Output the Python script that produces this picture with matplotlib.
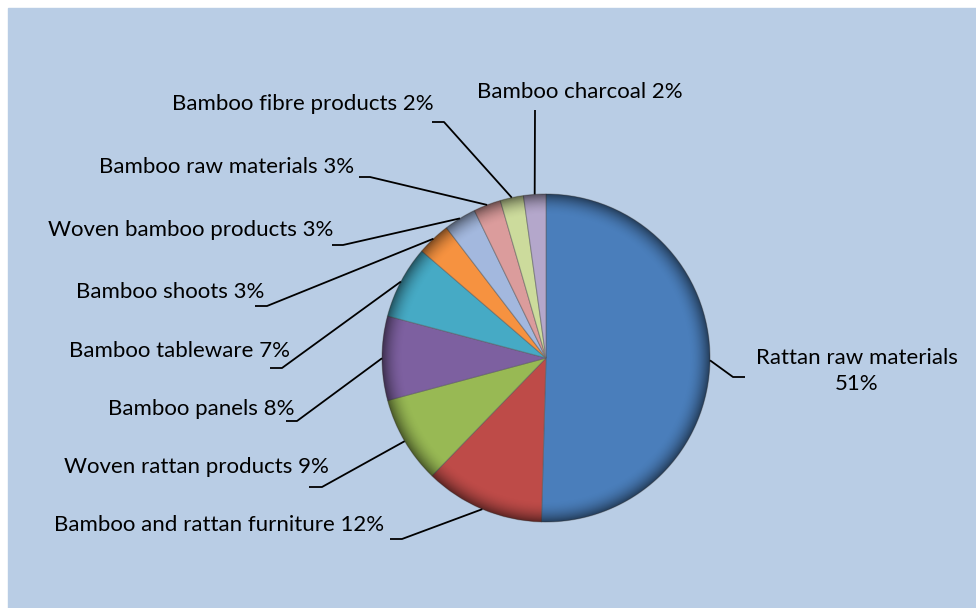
import numpy as np
import matplotlib.pyplot as plt
from matplotlib.patches import Rectangle, Circle

plt.rcParams['font.family'] = ['Lato', 'DejaVu Sans']

labels = ['Rattan raw materials', 'Bamboo and rattan furniture', 'Woven rattan products',
          'Bamboo panels', 'Bamboo tableware', 'Bamboo shoots', 'Woven bamboo products',
          'Bamboo raw materials', 'Bamboo fibre products', 'Bamboo charcoal']
shares = [50.5, 11.8, 8.6, 8.3, 7.2, 3.3, 3.2, 2.7, 2.3, 2.2]
pct_labels = ['51%', '12%', '9%', '8%', '7%', '3%', '3%', '3%', '2%', '2%']
colors = ['#4A7EBB', '#BE4B48', '#98B954', '#7D60A0', '#46AAC5', '#F69240',
          '#A3B8DE', '#DB9C9C', '#CCDB9C', '#B4A7CB']

W, H = 976, 608
cx, cy, r = 546, H - 358, 164

# label layout in image pixels: elbow x, elbow y, tick length, text x, text y
layout = [
    (733, 377, 12, 857, 371),
    (402, 539, -12, 384, 525),
    (322, 487, -13, 329, 467),
    (297, 421, -11, 295, 409),
    (282, 368, -12, 290, 351),
    (267, 306, -12, 264, 292),
    (343, 245, -11, 333, 230),
    (370, 177, -11, 354, 167),
    (444, 122, -12, 434, 104),
    (535, 110, 0, 580, 92),
]

fig = plt.figure(figsize=(W / 100, H / 100), dpi=100)
ax = fig.add_axes([0, 0, 1, 1])
ax.add_patch(Rectangle((8, 0), W - 8, H - 8, color='#B9CDE5', zorder=0))

wedges, _ = ax.pie(shares, colors=colors, startangle=90, counterclock=False,
                   center=(cx, cy), radius=r,
                   wedgeprops=dict(edgecolor=(0.35, 0.35, 0.35, 0.45), linewidth=0.8))
for w in wedges:
    w.set_zorder(2)

# darker rim to mimic the bevel look
n = 400
yy, xx = np.mgrid[-1:1:n * 1j, -1:1:n * 1j]
d = np.hypot(xx, yy)
shade = np.zeros((n, n, 4))
shade[..., 3] = np.clip((d - 0.87) / 0.13, 0, 1) ** 2 * 0.5
im = ax.imshow(shade, extent=[cx - r, cx + r, cy - r, cy + r], zorder=3)
im.set_clip_path(Circle((cx, cy), r, transform=ax.transData))

for w, name, pct, (ex, ey, tick, tx, ty) in zip(wedges, labels, pct_labels, layout):
    mid = np.deg2rad((w.theta1 + w.theta2) / 2)
    px, py = cx + r * np.cos(mid), cy + r * np.sin(mid)
    ey = H - ey
    ax.plot([px, ex, ex + tick], [py, ey, ey], color='black', lw=1.3, zorder=4,
            solid_capstyle='butt')
    if name == 'Rattan raw materials':
        ax.text(tx, H - ty, name + '\n' + pct, ha='center', va='center',
                fontsize=16, linespacing=1.35, zorder=5)
    elif tick == 0:
        ax.text(tx, H - ty, name + ' ' + pct, ha='center', va='center', fontsize=16, zorder=5)
    else:
        ax.text(tx, H - ty, name + ' ' + pct, ha='right', va='center', fontsize=16, zorder=5)

ax.set_xlim(0, W)
ax.set_ylim(0, H)
ax.set_aspect('equal')
ax.axis('off')
fig.savefig('out.png', dpi=100, facecolor='white')
